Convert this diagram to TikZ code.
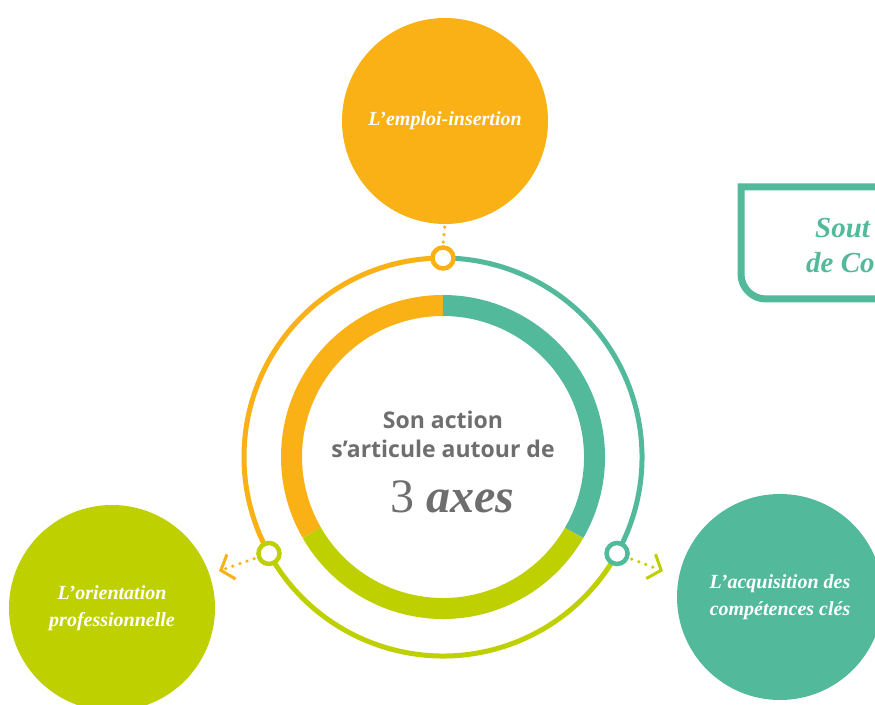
\documentclass[tikz,border=0pt]{standalone}
\usepackage{fontspec}
\setmainfont{Liberation Serif}
\newfontfamily\scriptf{Liberation Serif}
\newfontfamily\sansf{Open Sans}
\usetikzlibrary{arrows.meta}
\definecolor{orng}{HTML}{F9B116}
\definecolor{tealc}{HTML}{52B99A}
\definecolor{limec}{HTML}{BFD000}
\definecolor{txtgray}{HTML}{6E6E6E}
\tikzset{
  bigc/.style={circle, minimum size=206pt, inner sep=0pt, align=center, text=white,
    font=\scriptf\bfseries\itshape\fontsize{20}{27}\selectfont},
  junc/.style={circle, fill=white, line width=4.5pt, minimum size=21pt, inner sep=0pt},
  ringo/.style={line width=5pt},
  ringi/.style={line width=21pt},
  dotline/.style={line width=3.5pt, line cap=round, dash pattern=on 0pt off 7.5pt},
  chev/.style={-{Straight Barb[length=11pt,width=26pt,line width=3pt]}},
  boxtext/.style={anchor=west, inner sep=0pt, text=tealc, font=\scriptf\bfseries\itshape\fontsize{29}{32}\selectfont},
}
\begin{document}
\begin{tikzpicture}[x=1pt,y=1pt]
\clip (0,0) rectangle (875,704);
\fill[white] (0,0) rectangle (875,704);
\coordinate (C) at (443,247);
% outer ring
\draw[ringo, orng] ([shift={(90:199)}]C) arc[start angle=90, end angle=209, radius=199];
\draw[ringo, limec] ([shift={(209:199)}]C) arc[start angle=209, end angle=331, radius=199];
\draw[ringo, tealc] ([shift={(331:199)}]C) arc[start angle=331, end angle=450, radius=199];
% inner ring
\draw[ringi, orng] ([shift={(90:151.5)}]C) arc[start angle=90, end angle=210, radius=151.5];
\draw[ringi, limec] ([shift={(210:151.5)}]C) arc[start angle=210, end angle=330, radius=151.5];
\draw[ringi, tealc] ([shift={(330:151.5)}]C) arc[start angle=330, end angle=450, radius=151.5];
% junctions
\node[junc, draw=orng] (jt) at ([shift={(90:199)}]C) {};
\node[junc, draw=limec] (jl) at ([shift={(209:199)}]C) {};
\node[junc, draw=tealc] (jr) at ([shift={(331:199)}]C) {};
% big circles
\node[bigc, fill=orng] (emploi) at (445,583) {L’emploi-insertion};
\node[bigc, fill=limec] (orient) at (112,96) {L’orientation\\professionnelle};
\node[bigc, fill=tealc] (acqui) at (780,107) {L’acquisition des\\compétences clés};
% connectors
\draw[dotline, orng, shorten <=3pt, shorten >=3pt] (emploi.south) -- (jt.north);
\coordinate (la) at (219,133);
\coordinate (ra) at (663,133);
\draw[dotline, orng, chev, shorten <=3pt] (jl) -- (la);
\draw[dotline, limec, chev, shorten <=3pt] (jr) -- (ra);
% right box
\draw[tealc, line width=7pt] (890,517) -- (741,517) -- (741,430)
  arc[start angle=180, end angle=270, radius=25] -- (890,405);
\node[boxtext] (bt1) at (815,476) {Sout};
\node[boxtext] (bt2) at (806,441) {de Co};
% centre text
\node[align=center, text=txtgray, font=\sansf\bfseries\fontsize{23}{29}\selectfont] (ctext) at (443,270) {Son action\\s’articule autour de};
\node[text=txtgray, font=\scriptf\bfseries\itshape\fontsize{48}{54}\selectfont] (axes) at (452,207) {{\upshape\mdseries 3} axes};
\end{tikzpicture}
\end{document}
